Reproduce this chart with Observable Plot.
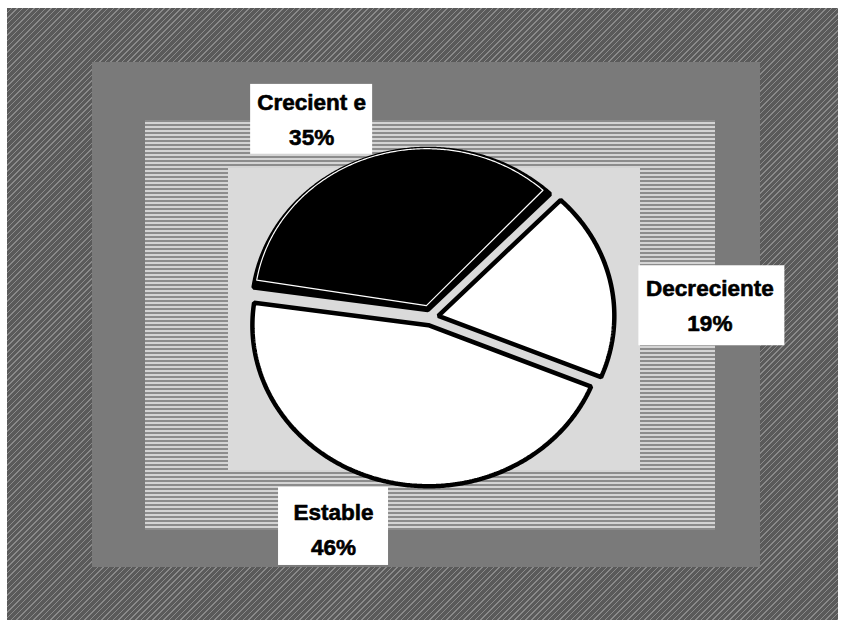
<!DOCTYPE html>
<html><head><meta charset="utf-8">
<script src="https://cdn.jsdelivr.net/npm/d3@7"></script>
<script src="https://cdn.jsdelivr.net/npm/@observablehq/plot@0.6"></script>
<style>
html,body{margin:0;padding:0;background:#fff;}
#wrap{position:relative;width:845px;height:628px;overflow:hidden;background:#fff;}
.bg{position:absolute;}
#chart{position:absolute;left:0;top:0;}
</style></head><body>
<div id="wrap">
  <div class="bg" style="left:7px;top:8px;width:831px;height:612px;background:repeating-linear-gradient(135deg,#5a5a5a 0 3px,#8a8a8a 3px 4px);"></div>
  <div class="bg" style="left:92px;top:62px;width:668px;height:505px;background:#7a7a7a;"></div>
  <div class="bg" style="left:145px;top:120px;width:570px;height:410px;background:repeating-linear-gradient(180deg,#8c8c8c 0 2px,#d4d4d4 2px 4px);"></div>
  <div class="bg" style="left:228px;top:168px;width:412px;height:302px;background:#dadada;"></div>
  <div id="chart"></div>
</div>
<script>
// ---- data ----
const categories = ["Crecient e", "Decreciente", "Estable"];
const values = [35, 19, 46];
const sliceFills = ["#000000", "#ffffff", "#ffffff"];

// ---- layout ----
const W = 845, H = 628;
const cx = 430, cy = 317, rx = 176, ry = 161;
const startDeg = -82, explodePx = 8;
const labelPolar = [[-28.4, 1.42], [86.7, 1.59], [203, 1.41]];
const boxSize = [[122, 70], [146, 80], [110, 78]];
const boxNudge = [[0, 3], [2, 3], [0, 0]];

const rad = Math.PI / 180;
const pie = d3.pie().sort(null).startAngle(startDeg * rad).endAngle((startDeg + 360) * rad);
const arcs = pie(values);

function slicePoints(arc, i, inset) {
  const mid = (arc.startAngle + arc.endAngle) / 2;
  const half = (arc.endAngle - arc.startAngle) / 2;
  const off = explodePx + (inset ? inset / Math.sin(Math.min(half, Math.PI / 2)) : 0);
  const ox = off * Math.sin(mid) / rx, oy = -off * Math.cos(mid) / ry;
  const rxs = 1 - inset / rx, rys = 1 - inset / ry;
  const d = inset ? inset / 170 : 0;
  const a0 = arc.startAngle + d, a1 = arc.endAngle - d;
  const pts = [{x: ox, y: oy, k: categories[i]}];
  const n = Math.ceil((a1 - a0) / 0.01);
  for (let j = 0; j <= n; j++) {
    const a = a0 + (a1 - a0) * j / n;
    pts.push({x: ox + rxs * Math.sin(a), y: oy - rys * Math.cos(a), k: categories[i]});
  }
  return pts;
}

const labelData = categories.map((c, i) => {
  const a = labelPolar[i][0] * rad, r = labelPolar[i][1];
  const x = r * Math.sin(a), y = -r * Math.cos(a);
  const bx = x + boxNudge[i][0] / rx, by = y + boxNudge[i][1] / ry;
  return {
    text: c + "\n" + values[i] + "%",
    x, y,
    x1: bx - boxSize[i][0] / 2 / rx, x2: bx + boxSize[i][0] / 2 / rx,
    y1: by - boxSize[i][1] / 2 / ry, y2: by + boxSize[i][1] / 2 / ry
  };
});

const marks = [];
arcs.forEach((arc, i) => {
  marks.push(Plot.line(slicePoints(arc, i, 0), {
    x: "x", y: "y", curve: "linear-closed",
    fill: sliceFills[i], stroke: "#000", strokeWidth: 4.5, strokeLinejoin: "miter"
  }));
  if (sliceFills[i] === "#000000") {
    marks.push(Plot.line(slicePoints(arc, i, 4), {
      x: "x", y: "y", curve: "linear-closed",
      fill: "none", stroke: "#fff", strokeWidth: 1.2
    }));
  }
});
marks.push(Plot.rect(labelData, {x1: "x1", x2: "x2", y1: "y1", y2: "y2", fill: "#fff"}));
marks.push(Plot.text(labelData, {
  x: "x", y: "y", text: "text",
  fontSize: 22.5, fontWeight: "bold", fontFamily: "Liberation Sans, Arial, sans-serif",
  lineHeight: 1.55, fill: "#000", stroke: "#000", strokeWidth: 0.6, textAnchor: "middle"
}));

const chart = Plot.plot({
  width: W, height: H,
  margin: 0,
  x: {domain: [-1, 1], range: [cx - rx, cx + rx], axis: null},
  y: {domain: [-1, 1], range: [cy - ry, cy + ry], axis: null},
  style: {background: "transparent", overflow: "visible"},
  marks
});
document.getElementById("chart").appendChild(chart);
</script>
</body></html>
